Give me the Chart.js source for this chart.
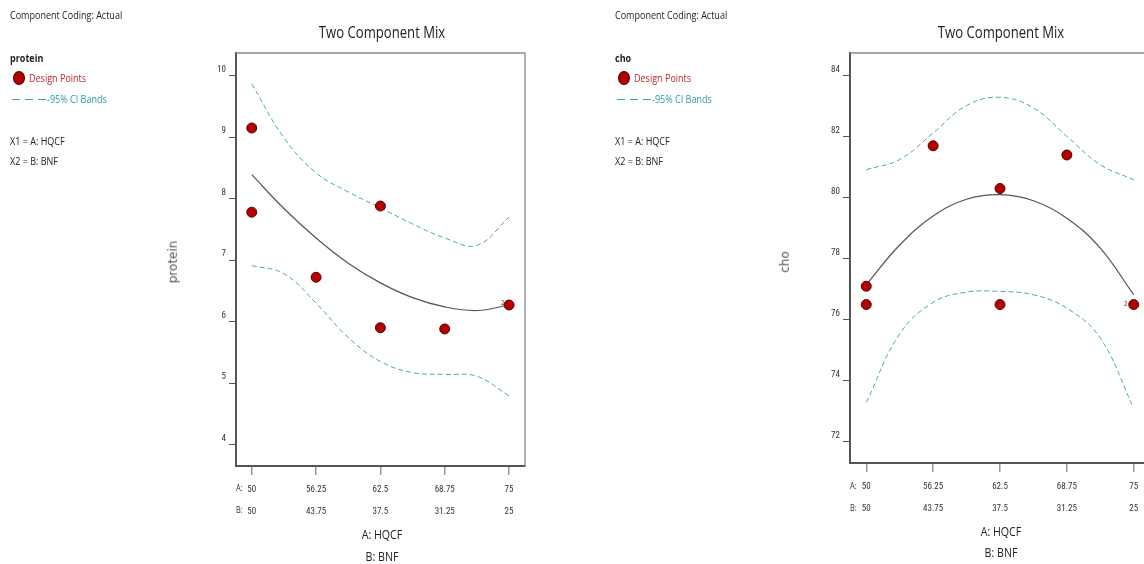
<!DOCTYPE html>
<html>
<head>
<meta charset="utf-8">
<script src="https://cdn.jsdelivr.net/npm/chart.js@4.4.0/dist/chart.umd.min.js"></script>
<style>
body{margin:0;width:1144px;height:564px;overflow:hidden;background:#fff;position:relative;font-family:'Open Sans',sans-serif;}
.panel{position:absolute;top:0;height:564px;}
.t{position:absolute;white-space:nowrap;line-height:1.2;color:#222;transform-origin:0 50%;transform:translateY(-50%) scaleX(.82);}
.c{transform-origin:50% 50%;transform:translate(-50%,-50%) scaleX(.82);}
.r{font-family:'DejaVu Sans',sans-serif;transform-origin:50% 50%;transform:translate(-50%,-50%) rotate(-90deg);}
.dot{position:absolute;width:12px;height:14px;border-radius:50%;background:#b30000;border:1px solid #5a0000;box-sizing:border-box;}
.dash{position:absolute;height:1px;background:repeating-linear-gradient(to right,#3aa6a6 0 8px,transparent 8px 13px);}
</style>
</head>
<body>
<canvas id="proteinChart" class="panel" style="left:0;width:572px;"></canvas>
<canvas id="choChart" class="panel" style="left:572px;width:600px;"></canvas>
<script>
// mixture levels shown on the x axis
const aLevels = [50, 56.25, 62.5, 68.75, 75];
const bLevels = [50, 43.75, 37.5, 31.25, 25];
// A values where the fitted curve and CI bands were read
const curveA = [50, 53.125, 56.25, 59.375, 62.5, 65.625, 68.75, 71.875, 75];

// protein
const proteinPointsA = [50, 50, 56.25, 62.5, 62.5, 68.75, 75];
const proteinPointsY = [9.15, 7.78, 6.72, 7.88, 5.90, 5.88, 6.27];
const proteinFit = [8.39, 7.84, 7.36, 6.95, 6.63, 6.39, 6.24, 6.18, 6.27];
const proteinUpper = [9.87, 8.99, 8.42, 8.11, 7.85, 7.59, 7.36, 7.24, 7.70];
const proteinLower = [6.91, 6.78, 6.30, 5.74, 5.35, 5.17, 5.14, 5.11, 4.79];
const proteinTicks = [4, 5, 6, 7, 8, 9, 10];

// cho
const choPointsA = [50, 50, 56.25, 62.5, 62.5, 68.75, 75];
const choPointsY = [77.1, 76.5, 81.7, 80.3, 76.5, 81.4, 76.5];
const choFit = [77.15, 78.45, 79.4, 79.95, 80.1, 79.9, 79.33, 78.35, 76.82];
const choUpper = [80.92, 81.25, 82.12, 83.02, 83.29, 82.94, 82.01, 81.08, 80.59];
const choLower = [73.29, 75.54, 76.57, 76.91, 76.93, 76.82, 76.38, 75.4, 73.1];
const choTicks = [72, 74, 76, 78, 80, 82, 84];

const tickFont = {family: "'Liberation Sans Narrow', 'Roboto Condensed', Roboto, sans-serif", size: 9};

function label(text, x, y, cls, style) {
    const el = document.createElement('div');
    el.className = 't ' + (cls || '');
    el.textContent = text;
    el.style.left = x + 'px';
    el.style.top = y + 'px';
    Object.assign(el.style, style || {});
    document.body.appendChild(el);
    return el;
}

function legend(x0, name) {
    label('Component Coding: Actual', x0, 15, '', {fontSize: '11px'});
    label(name, x0, 58, '', {fontSize: '11px', fontWeight: 'bold'});
    const dot = document.createElement('div');
    dot.className = 'dot';
    dot.style.left = (x0 + 3) + 'px';
    dot.style.top = '71px';
    document.body.appendChild(dot);
    label('Design Points', x0 + 19, 78, '', {fontSize: '11px', color: '#c0272d'});
    const dash = document.createElement('div');
    dash.className = 'dash';
    dash.style.left = (x0 + 2) + 'px';
    dash.style.width = '34px';
    dash.style.top = '99px';
    document.body.appendChild(dash);
    label('-95% CI Bands', x0 + 37, 99, '', {fontSize: '11px', color: '#2a9d9d'});
    label('X1 = A: HQCF', x0, 141, '', {fontSize: '11px'});
    label('X2 = B: BNF', x0, 161, '', {fontSize: '11px'});
}

const boxPlugin = {
    id: 'box',
    beforeDatasetsDraw(chart) {
        const a = chart.chartArea;
        const ctx = chart.ctx;
        ctx.save();
        ctx.strokeStyle = '#8a8a8a';
        ctx.lineWidth = 1.3;
        ctx.beginPath();
        ctx.moveTo(a.left, a.top);
        ctx.lineTo(a.right, a.top);
        ctx.lineTo(a.right, a.bottom);
        ctx.stroke();
        ctx.restore();
    }
};

function xy(xs, ys) {
    return xs.map((x, i) => ({x: x, y: ys[i]}));
}

function buildPanel(id, d) {
    const band = {borderColor: '#45adad', borderWidth: 1, borderDash: [5, 3], pointRadius: 0, tension: 0.4, fill: false};
    return new Chart(document.getElementById(id), {
        type: 'line',
        data: {
            datasets: [
                {data: xy(d.pointsA, d.pointsY), showLine: false, pointRadius: 5, pointHoverRadius: 5,
                 pointBackgroundColor: '#b30000', pointBorderColor: '#5a0000', pointBorderWidth: 1},
                Object.assign({data: xy(curveA, d.upper)}, band),
                Object.assign({data: xy(curveA, d.lower)}, band),
                {data: xy(curveA, d.fit), borderColor: '#555', borderWidth: 1.2, pointRadius: 0, tension: 0.4}
            ]
        },
        options: {
            responsive: false,
            animation: false,
            clip: false,
            layout: {padding: {left: d.padLeft, top: 53, right: d.padRight, bottom: d.padBottom}},
            plugins: {legend: {display: false}, tooltip: {enabled: false}, title: {display: false}},
            scales: {
                x: {
                    type: 'linear', min: d.xMin, max: d.xMax,
                    afterBuildTicks: s => { s.ticks = aLevels.map(v => ({value: v})); },
                    afterFit: s => { s.height = 60; },
                    grid: {drawOnChartArea: false, drawTicks: true, tickLength: 9, color: '#999', lineWidth: 1.5},
                    border: {color: '#555', width: 2},
                    ticks: {
                        font: Object.assign({lineHeight: 2.4}, tickFont), color: '#333', padding: 4, maxRotation: 0,
                        callback: (v, i) => [String(aLevels[i]), String(bLevels[i])]
                    }
                },
                y: {
                    min: d.yMin, max: d.yMax,
                    afterBuildTicks: s => { s.ticks = d.yTicks.map(v => ({value: v})); },
                    afterFit: s => { s.width = d.yWidth; },
                    grid: {drawOnChartArea: false, drawTicks: true, tickLength: 7, color: '#555', lineWidth: 1},
                    border: {color: '#555', width: 2},
                    ticks: {font: tickFont, color: '#333', padding: 3, labelOffset: -6}
                }
            }
        },
        plugins: [boxPlugin]
    });
}

document.getElementById('proteinChart').width = 572;
document.getElementById('proteinChart').height = 564;
document.getElementById('choChart').width = 600;
document.getElementById('choChart').height = 564;

buildPanel('proteinChart', {
    pointsA: proteinPointsA, pointsY: proteinPointsY, fit: proteinFit, upper: proteinUpper, lower: proteinLower,
    yMin: 3.65, yMax: 10.37, yTicks: proteinTicks, xMin: 48.47, xMax: 76.55,
    padLeft: 150, yWidth: 86, padRight: 47, padBottom: 38
});
buildPanel('choChart', {
    pointsA: choPointsA, pointsY: choPointsY, fit: choFit, upper: choUpper, lower: choLower,
    yMin: 71.31, yMax: 84.74, yTicks: choTicks, xMin: 48.48, xMax: 76.52,
    padLeft: 190, yWidth: 88, padRight: 22, padBottom: 41
});

// text around the plots
legend(10, 'protein');
legend(615, 'cho');
label('Two Component Mix', 382, 33, 'c', {fontSize: '16px'});
label('Two Component Mix', 1001, 33, 'c', {fontSize: '16px'});
label('protein', 173, 262, 'r', {fontSize: '12px', color: '#555'});
label('cho', 785, 262, 'r', {fontSize: '12px', color: '#555'});
label('A: HQCF', 382, 535, 'c', {fontSize: '13px'});
label('B: BNF', 382, 557, 'c', {fontSize: '13px'});
label('A: HQCF', 1001, 532, 'c', {fontSize: '13px'});
label('B: BNF', 1001, 553, 'c', {fontSize: '13px'});
label('A:', 236, 488, '', {fontSize: '9px', color: '#333'});
label('B:', 236, 510, '', {fontSize: '9px', color: '#333'});
label('A:', 850, 486, '', {fontSize: '9px', color: '#333'});
label('B:', 850, 508, '', {fontSize: '9px', color: '#333'});
label('2', 501, 303, '', {fontSize: '7px', color: '#333'});
label('2', 1124, 304, '', {fontSize: '7px', color: '#333'});
</script>
</body>
</html>
